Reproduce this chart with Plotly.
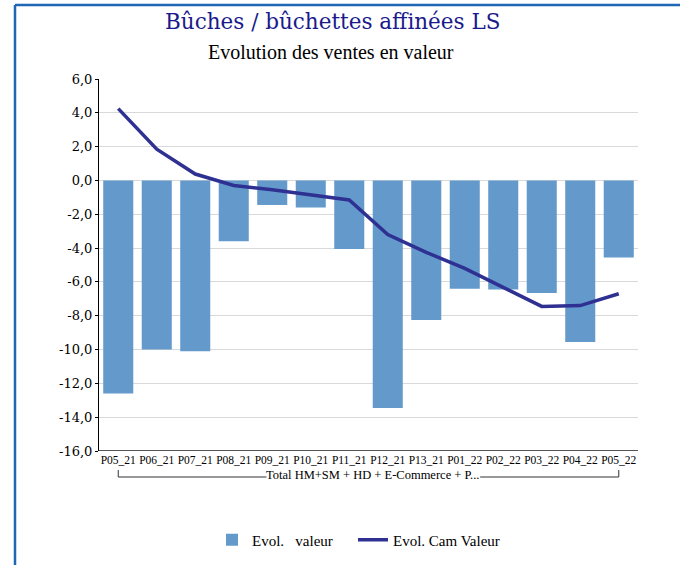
import plotly.graph_objects as go

categories = ["P05_21", "P06_21", "P07_21", "P08_21", "P09_21", "P10_21", "P11_21",
              "P12_21", "P13_21", "P01_22", "P02_22", "P03_22", "P04_22", "P05_22"]
evol_valeur = [-12.6, -10.0, -10.1, -3.6, -1.45, -1.6, -4.05,
               -13.45, -8.25, -6.4, -6.45, -6.65, -9.55, -4.55]
evol_cam_valeur = [4.25, 1.85, 0.38, -0.3, -0.55, -0.85, -1.15,
                   -3.2, -4.25, -5.2, -6.3, -7.45, -7.4, -6.7]
y_tick_vals = [6, 4, 2, 0, -2, -4, -6, -8, -10, -12, -14, -16]
y_tick_text = ["6,0", "4,0", "2,0", "0,0", "-2,0", "-4,0", "-6,0", "-8,0",
               "-10,0", "-12,0", "-14,0", "-16,0"]
group_label = "Total HM+SM + HD + E-Commerce + P..."
title_text = "Bûches / bûchettes affinées LS"
subtitle_text = "Evolution des ventes en valeur"

W, H = 680, 565
L, R, T, B = 99, 42, 79, 114
pw, ph = W - L - R, H - T - B

def px_x(p):
    return (p - L) / pw

def px_y(p):
    return (H - B - p) / ph

serif = "Liberation Serif"
fig = go.Figure()
fig.add_trace(go.Bar(x=categories, y=evol_valeur, name="Evol.   valeur",
                     marker=dict(color="#6499CB", line=dict(width=0)), legend="legend"))
fig.add_trace(go.Scatter(x=categories, y=evol_cam_valeur, name="Evol. Cam Valeur",
                         mode="lines", line=dict(color="#2E3192", width=3.5),
                         legend="legend2"))

frame = "#1F66B5"
shapes = [
    dict(type="line", xref="paper", yref="paper", x0=px_x(15), x1=px_x(681),
         y0=px_y(5), y1=px_y(5), line=dict(color=frame, width=2.5)),
    dict(type="line", xref="paper", yref="paper", x0=px_x(15), x1=px_x(15),
         y0=px_y(5), y1=px_y(566), line=dict(color=frame, width=2.5)),
    # group bracket under the category labels
    dict(type="line", xref="x", yref="paper", x0=0, x1=0,
         y0=px_y(470), y1=px_y(477), line=dict(color="#333", width=1)),
    dict(type="line", xref="x", yref="paper", x0=13, x1=13,
         y0=px_y(470), y1=px_y(477), line=dict(color="#333", width=1)),
    dict(type="line", xref="x", yref="paper", x0=0, x1=3.85,
         y0=px_y(477), y1=px_y(477), line=dict(color="#333", width=1)),
    dict(type="line", xref="x", yref="paper", x0=9.4, x1=13,
         y0=px_y(477), y1=px_y(477), line=dict(color="#333", width=1)),
]

annotations = [
    dict(text=title_text, xref="paper", yref="paper", x=px_x(332), y=px_y(22),
         showarrow=False, font=dict(family="DejaVu Serif", size=21.5, color="#1A1A8C"),
         xanchor="center", yanchor="middle"),
    dict(text=subtitle_text, xref="paper", yref="paper", x=px_x(331), y=px_y(52),
         showarrow=False, font=dict(family=serif, size=20, color="#000"),
         xanchor="center", yanchor="middle"),
    dict(text=group_label, xref="x", yref="paper", x=6.6, y=px_y(475),
         showarrow=False, font=dict(family=serif, size=12.5, color="#000"),
         xanchor="center", yanchor="middle"),
]

legend_font = dict(family=serif, size=15, color="#000")
fig.update_layout(
    width=W, height=H,
    margin=dict(l=L, r=R, t=T, b=B, autoexpand=False),
    paper_bgcolor="white", plot_bgcolor="white",
    bargap=0.22,
    showlegend=True,
    legend=dict(orientation="h", x=px_x(212), xanchor="left", y=px_y(540),
                yanchor="middle", font=legend_font, itemwidth=30),
    legend2=dict(orientation="h", x=px_x(353), xanchor="left", y=px_y(540),
                 yanchor="middle", font=legend_font, itemwidth=30),
    shapes=shapes, annotations=annotations,
    xaxis=dict(showgrid=False, showline=False, ticks="", tickangle=0,
               tickfont=dict(family=serif, size=11.5, color="#000")),
    yaxis=dict(range=[-16, 6], tickvals=y_tick_vals, ticktext=y_tick_text,
               showgrid=True, gridcolor="#D9D9D9", gridwidth=1,
               showline=True, linecolor="#000", linewidth=1, zeroline=False,
               ticks="outside", ticklen=3, tickcolor="#000",
               tickfont=dict(family="DejaVu Serif", size=13, color="#000")),
)
# bottom axis line at -16
fig.add_shape(type="line", xref="paper", yref="y", x0=0, x1=1, y0=-16, y1=-16,
              line=dict(color="#555", width=2))

fig.write_html("out.html", config={"displayModeBar": False},
               post_script="document.body.style.margin='0';")
